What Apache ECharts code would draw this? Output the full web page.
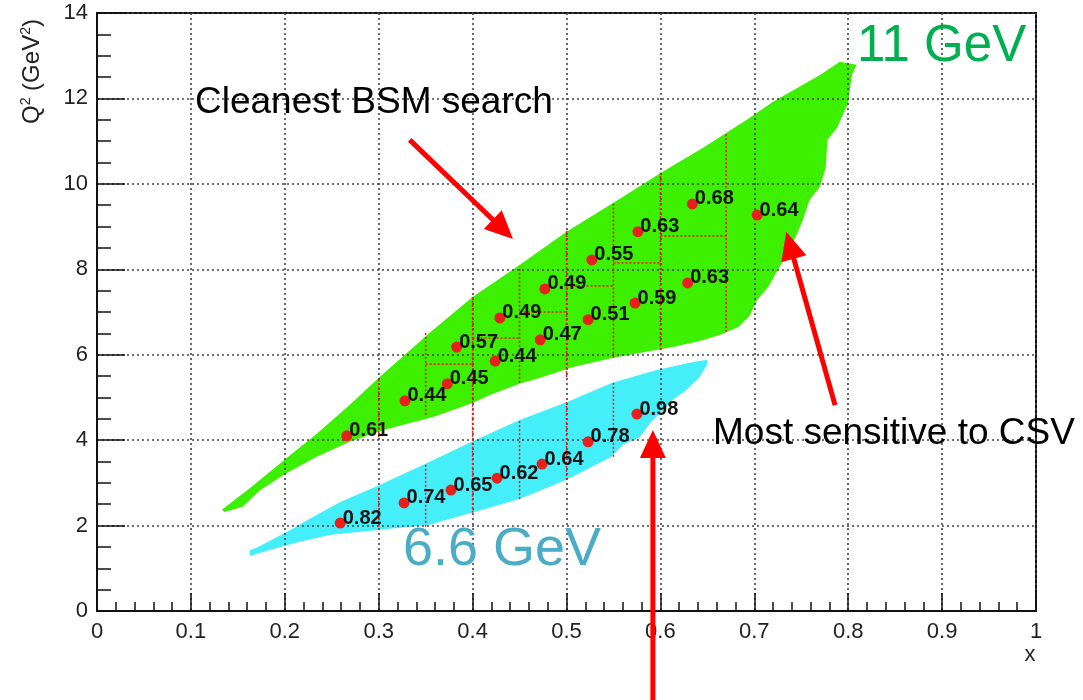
<!DOCTYPE html>
<html><head><meta charset="utf-8">
<script src="https://cdn.jsdelivr.net/npm/echarts@6/dist/echarts.min.js"></script>
<style>html,body{margin:0;padding:0;background:#fff}#c{width:1083px;height:700px}</style>
</head><body><div id="c"></div>
<script>
// ---------- data ----------
// kinematic coverage, 11 GeV (x, Q2) boundary
const region11 = [
 [0.133,2.37],[0.163,2.88],[0.202,3.58],[0.234,4.15],[0.269,4.82],[0.301,5.48],[0.354,6.51],
 [0.400,7.35],[0.450,8.10],[0.500,8.88],[0.550,9.56],[0.602,10.28],[0.645,10.84],[0.692,11.50],
 [0.720,11.92],[0.770,12.55],[0.791,12.86],[0.809,12.79],[0.804,12.55],[0.800,11.90],[0.788,11.31],
 [0.778,11.03],[0.776,10.37],[0.770,9.93],[0.759,9.63],[0.751,9.11],[0.738,8.45],[0.725,7.99],
 [0.715,7.59],[0.703,7.28],[0.695,6.91],[0.683,6.65],[0.663,6.46],[0.642,6.32],[0.613,6.18],
 [0.578,6.04],[0.550,5.93],[0.507,5.71],[0.472,5.46],[0.450,5.32],[0.419,5.06],[0.400,4.87],
 [0.358,4.54],[0.305,4.24],[0.269,3.96],[0.234,3.61],[0.202,3.23],[0.174,2.83],[0.155,2.44],[0.136,2.32]
];
// kinematic coverage, 6.6 GeV boundary
const region66 = [
 [0.163,1.43],[0.170,1.48],[0.202,1.85],[0.230,2.20],[0.259,2.55],[0.301,2.95],[0.352,3.47],
 [0.399,3.96],[0.450,4.47],[0.500,4.89],[0.548,5.34],[0.596,5.64],[0.635,5.83],[0.650,5.88],
 [0.650,5.78],[0.642,5.48],[0.628,5.18],[0.613,4.94],[0.600,4.64],[0.589,4.40],[0.578,4.07],
 [0.560,3.89],[0.548,3.61],[0.500,3.07],[0.450,2.62],[0.399,2.30],[0.352,2.01],[0.301,1.90],
 [0.248,1.78],[0.216,1.62],[0.181,1.41],[0.163,1.29]
];
// bin edges: vertical [x, yLow, yHigh]
const binVert11 = [[0.30,4.07,5.48],[0.35,4.59,6.51],[0.40,4.50,7.35],[0.45,5.34,8.06],[0.50,5.48,8.92],
 [0.55,5.93,9.56],[0.60,6.11,10.26],[0.67,6.53,11.22]];
// bin splits: horizontal [x0, x1, y]
const binHorz11 = [[0.35,0.40,5.78],[0.40,0.45,6.39],[0.45,0.50,7.00],[0.50,0.55,7.61],[0.55,0.60,8.15],[0.60,0.67,8.78]];
const binVert66 = [[0.30,1.97,2.90],[0.35,1.97,3.47],[0.40,2.30,4.50],[0.45,2.62,4.47],[0.50,3.07,4.89],[0.55,3.61,5.34]];

// bin centres and values
const x11 = [0.266,0.328,0.373,0.383,0.424,0.429,0.472,0.477,0.523,0.527,0.573,0.576,0.629,0.634,0.703];
const q11 = [4.10,4.92,5.32,6.18,5.85,6.86,6.35,7.54,6.82,8.22,7.21,8.88,7.68,9.53,9.27];
const v11 = ['0.61','0.44','0.45','0.57','0.44','0.49','0.47','0.49','0.51','0.55','0.59','0.63','0.63','0.68','0.64'];
const x66 = [0.259,0.327,0.377,0.426,0.474,0.523,0.575];
const q66 = [2.06,2.53,2.83,3.11,3.44,3.96,4.61];
const v66 = ['0.82','0.74','0.65','0.62','0.64','0.78','0.98'];

// annotation arrows [tail, tip] in (x, Q2)
const arrows = [
 [[0.333,11.03],[0.443,8.71]],
 [[0.786,4.82],[0.734,8.88]],
 [[0.592,-2.10],[0.592,4.24]]
];

// ---------- chart ----------
const FONT = '"Liberation Sans", Arial, Helvetica, sans-serif';
const chart = echarts.init(document.getElementById('c'));

const segs = [];
binVert11.concat(binVert66).forEach(b => segs.push([b[0], b[1], b[0], b[2]]));
binHorz11.forEach(b => segs.push([b[0], b[2], b[1], b[2]]));

function poly(pts, color) {
  return {
    type: 'custom', z: -1, silent: true, data: [[0, 0]],
    renderItem: (p, api) => ({
      type: 'polygon',
      shape: { points: pts.map(q => api.coord(q)) },
      style: { fill: color }
    })
  };
}
const pts = (xs, qs, vs) => xs.map((x, i) => [x, qs[i], vs[i]]);
const scatterCommon = {
  type: 'scatter', symbolSize: 11, z: 5,
  itemStyle: { color: '#e8201c', opacity: 1 },
  label: {
    show: true, position: 'right', distance: 0, offset: [-3, -5],
    formatter: p => p.value[2], fontFamily: FONT, fontWeight: 'bold', fontSize: 20, color: '#141414'
  }
};

const axisCommon = (tickLen, minorLen, split) => ({
  axisLine: { show: true, onZero: false, lineStyle: { color: '#111', width: 2 } },
  axisTick: { show: true, inside: true, length: tickLen, lineStyle: { color: '#111', width: 1.5 } },
  minorTick: { show: true, splitNumber: split, length: minorLen, lineStyle: { color: '#111', width: 1.5 } },
  splitLine: { show: true, lineStyle: { color: '#444', type: [2, 3], width: 1.6 } },
  axisLabel: { fontFamily: FONT, fontSize: 22, color: '#222' }
});

chart.setOption({
  animation: false,
  grid: { left: 97, right: 47, top: 13, bottom: 89, show: true, borderColor: '#111', borderWidth: 2, backgroundColor: 'transparent' },
  xAxis: Object.assign({ type: 'value', min: 0, max: 1, interval: 0.1 }, axisCommon(18, 9, 5), {
    axisLabel: { fontFamily: FONT, fontSize: 22, color: '#222', margin: 10,
      formatter: v => (v === 0 ? '0' : (Math.abs(v - 1) < 1e-9 ? '1' : v.toFixed(1))) }
  }),
  yAxis: Object.assign({ type: 'value', min: 0, max: 14, interval: 2 }, axisCommon(28, 14, 4), {
    axisLabel: { fontFamily: FONT, fontSize: 22, color: '#222', margin: 9 }
  }),
  series: [
    poly(region11, '#3cf000'),
    poly(region66, '#45effa'),
    {
      type: 'custom', z: 3, silent: true, data: segs,
      encode: { x: [0, 2], y: [1, 3] },
      renderItem: (p, api) => {
        const a = api.coord([api.value(0), api.value(1)]);
        const b = api.coord([api.value(2), api.value(3)]);
        return { type: 'line', shape: { x1: a[0], y1: a[1], x2: b[0], y2: b[1] },
          style: { stroke: '#ff1010', lineWidth: 1.5, lineDash: [2, 2] } };
      }
    },
    Object.assign({ data: pts(x11, q11, v11) }, scatterCommon),
    Object.assign({ data: pts(x66, q66, v66) }, scatterCommon)
  ]
});

// annotations
const g = [];
arrows.forEach(([t, h]) => {
  const a = chart.convertToPixel({ gridIndex: 0 }, t);
  const b = chart.convertToPixel({ gridIndex: 0 }, h);
  const dx = b[0] - a[0], dy = b[1] - a[1], L = Math.hypot(dx, dy);
  const ux = dx / L, uy = dy / L, hl = 28, hw = 13;
  const bx = b[0] - ux * hl, by = b[1] - uy * hl;
  g.push({ type: 'line', z: 10, shape: { x1: a[0], y1: a[1], x2: bx + ux * 2, y2: by + uy * 2 }, style: { stroke: '#ff0000', lineWidth: 5 } });
  g.push({ type: 'polygon', z: 10, shape: { points: [[b[0], b[1]], [bx - uy * hw, by + ux * hw], [bx + uy * hw, by - ux * hw]] }, style: { fill: '#ff0000' } });
});
const txt = (x, y, text, size, color) => ({
  type: 'text', z: 10, x: x, y: y,
  style: { text: text, font: size + 'px ' + FONT, fill: color, align: 'left', verticalAlign: 'middle' }
});
g.push(txt(195, 103, 'Cleanest BSM search', 37, '#000'));
g.push(txt(713, 434, 'Most sensitive to CSV', 37, '#000'));
g.push(txt(857, 47, '11 GeV', 51, '#00b050'));
g.push(txt(403, 550, '6.6 GeV', 54, '#4bacc6'));
const xt = txt(1030, 655, 'x', 22, '#222');
xt.style.align = 'center';
g.push(xt);
g.push({
  type: 'text', z: 10, x: 32, y: 124, rotation: Math.PI / 2,
  style: {
    text: 'Q{s|2} (GeV{s|2})', font: '24px ' + FONT, fill: '#222', align: 'left', verticalAlign: 'middle',
    rich: { s: { fontSize: 14, fontFamily: FONT, fill: '#222', padding: [0, 0, 12, 0] } }
  }
});
chart.setOption({ graphic: g });
</script>
</body></html>
